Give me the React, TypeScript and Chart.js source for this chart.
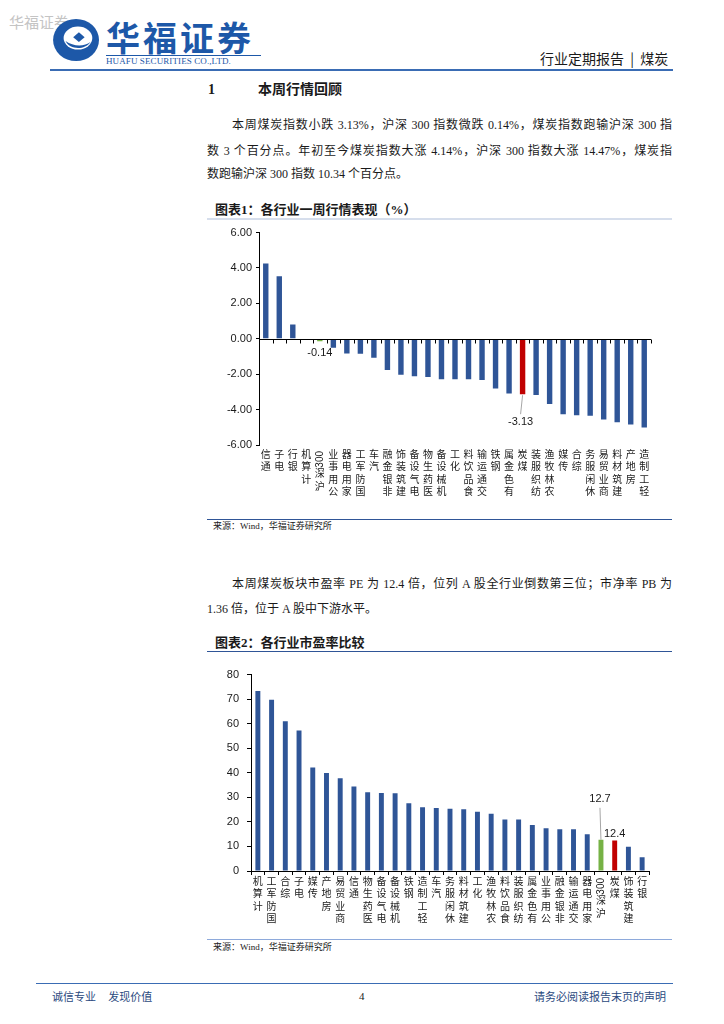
import React, { useEffect, useRef } from 'react';
import { Chart, registerables } from 'chart.js';

Chart.register(...registerables);

// ---------- Data ----------
const weekCategories = ['通信', '电子', '银行', '计算机', '沪深300', '公用事业', '家用电器', '国防军工', '汽车', '非银金融', '建筑装饰', '电气设备', '医药生物', '机械设备', '化工', '食品饮料', '交通运输', '钢铁', '有色金属', '煤炭', '纺织服装', '农林牧渔', '传媒', '综合', '休闲服务', '商业贸易', '建筑材料', '房地产', '轻工制造'];
const weekValues = [4.26, 3.53, 0.81, -0.05, -0.14, -0.51, -0.83, -0.84, -1.07, -1.76, -2.03, -2.12, -2.16, -2.29, -2.28, -2.29, -2.33, -2.81, -3.09, -3.13, -3.17, -3.68, -4.26, -4.32, -4.35, -4.56, -4.71, -4.84, -5.01];
const weekTickMin = -6;
const weekTickMax = 6;
const weekTickStep = 2;

const peCategories = ['计算机', '国防军工', '综合', '电子', '传媒', '房地产', '商业贸易', '通信', '医药生物', '电气设备', '机械设备', '钢铁', '轻工制造', '汽车', '休闲服务', '建筑材料', '化工', '农林牧渔', '食品饮料', '纺织服装', '有色金属', '公用事业', '非银金融', '交通运输', '家用电器', '沪深300', '煤炭', '建筑装饰', '银行'];
const peValues = [73.3, 69.8, 61.0, 57.2, 42.2, 39.9, 37.8, 34.4, 32.1, 31.8, 31.7, 27.6, 26.0, 25.7, 25.4, 25.2, 24.1, 23.3, 21.0, 21.0, 18.7, 17.4, 17.0, 17.0, 15.0, 12.7, 12.4, 9.9, 5.6];
const peTickMin = 0;
const peTickMax = 80;
const peTickStep = 10;

const highlightRed = '煤炭';
const highlightGreen = '沪深300';

// ---------- Styles ----------
const BLUE = '#2f5597';
const RED = '#c00000';
const GREEN = '#76b245';
const TICK_FONT = '"Liberation Sans", Arial, sans-serif';
const CJK = '"Noto Sans CJK SC", sans-serif';
const BODY_FONT = '"Liberation Serif", "Noto Sans CJK SC", serif';

const barColors = (cats: string[]) =>
  cats.map((c) => (c === highlightRed ? RED : c === highlightGreen ? GREEN : BLUE));

// vertical stacked category labels (characters upright, reading bottom-to-top, digits rotated)
const verticalLabels = (offset: number) => ({
  id: 'verticalLabels',
  afterDraw(chart: any) {
    const ctx = chart.ctx as CanvasRenderingContext2D;
    const xs = chart.scales.x;
    const labels = chart.data.labels as string[];
    ctx.save();
    ctx.fillStyle = '#1a1a1a';
    labels.forEach((lab, i) => {
      const x = xs.getPixelForValue(i);
      const tokens = (lab.match(/[0-9A-Za-z]+|./g) || []).reverse();
      let y = chart.chartArea.bottom + offset;
      for (const t of tokens) {
        if (/^[0-9A-Za-z]+$/.test(t)) {
          ctx.font = `10px ${TICK_FONT}`;
          const w = ctx.measureText(t).width;
          ctx.save();
          ctx.translate(x, y + w / 2 + 1);
          ctx.rotate(-Math.PI / 2);
          ctx.textAlign = 'center';
          ctx.textBaseline = 'middle';
          ctx.fillText(t, 0, 0);
          ctx.restore();
          y += w + 3;
        } else {
          ctx.font = `10px ${CJK}`;
          ctx.textAlign = 'center';
          ctx.textBaseline = 'top';
          ctx.fillText(t, x, y - 1);
          y += 12.5;
        }
      }
    });
    ctx.restore();
  },
});

// zero line with boundary ticks for chart 1
const zeroAxis = {
  id: 'zeroAxis',
  afterDatasetsDraw(chart: any) {
    const ctx = chart.ctx as CanvasRenderingContext2D;
    const { left, right } = chart.chartArea;
    const y0 = Math.round(chart.scales.y.getPixelForValue(0)) + 0.5;
    const n = (chart.data.labels as string[]).length;
    const step = (right - left) / n;
    ctx.save();
    ctx.strokeStyle = '#000';
    ctx.lineWidth = 1;
    ctx.beginPath();
    ctx.moveTo(left, y0);
    ctx.lineTo(right, y0);
    for (let i = 1; i <= n; i++) {
      const x = Math.round(left + i * step) + 0.5;
      ctx.moveTo(x, y0);
      ctx.lineTo(x, y0 + 4);
    }
    ctx.stroke();
    ctx.restore();
  },
};

type Callout = { cat: string; text: string; dx: number; textDy: number; lineFrom: number; lineTo: number };

const callouts = (items: Callout[]) => ({
  id: 'callouts',
  afterDraw(chart: any) {
    const ctx = chart.ctx as CanvasRenderingContext2D;
    const meta = chart.getDatasetMeta(0);
    const labels = chart.data.labels as string[];
    ctx.save();
    ctx.font = `11px ${TICK_FONT}`;
    ctx.textAlign = 'center';
    ctx.textBaseline = 'middle';
    for (const it of items) {
      const idx = labels.indexOf(it.cat);
      const bar = meta.data[idx];
      if (!bar) continue;
      const bx = bar.x;
      const by = bar.y;
      if (it.lineFrom !== it.lineTo) {
        ctx.strokeStyle = '#a6a6a6';
        ctx.lineWidth = 1;
        ctx.beginPath();
        ctx.moveTo(bx, by + it.lineFrom);
        ctx.lineTo(bx + it.dx, by + it.lineTo);
        ctx.stroke();
      }
      ctx.fillStyle = '#1a1a1a';
      ctx.fillText(it.text, bx + it.dx, by + it.textDy);
    }
    ctx.restore();
  },
});

function BarChart(props: {
  cats: string[];
  vals: number[];
  min: number;
  max: number;
  step: number;
  digits: number;
  w: number;
  h: number;
  yWidth: number;
  xHeight: number;
  padRight: number;
  padTop: number;
  barPct: number;
  tickLen: number;
  tickPad: number;
  labelOffset: number;
  zero: boolean;
  notes: Callout[];
}) {
  const ref = useRef<HTMLCanvasElement>(null);
  useEffect(() => {
    if (!ref.current) return;
    const plugins: any[] = [verticalLabels(props.labelOffset), callouts(props.notes)];
    if (props.zero) plugins.push(zeroAxis);
    const chart = new Chart(ref.current, {
      type: 'bar',
      data: {
        labels: props.cats,
        datasets: [
          {
            data: props.vals,
            backgroundColor: barColors(props.cats),
            borderWidth: 0,
            barPercentage: props.barPct,
            categoryPercentage: 1,
          },
        ],
      },
      options: {
        animation: false,
        responsive: false,
        devicePixelRatio: 1,
        layout: { padding: { left: 0, right: props.padRight, top: props.padTop, bottom: 0 } },
        plugins: { legend: { display: false }, tooltip: { enabled: false } },
        scales: {
          x: {
            offset: true,
            ticks: { display: false },
            grid: {
              display: !props.zero,
              drawOnChartArea: false,
              drawTicks: true,
              tickLength: 4,
              color: '#000',
              offset: true,
            },
            border: { display: !props.zero, color: '#000' },
            afterFit: (s: any) => {
              s.height = props.xHeight;
            },
          },
          y: {
            min: props.min,
            max: props.max,
            ticks: {
              stepSize: props.step,
              padding: props.tickPad,
              color: '#1a1a1a',
              font: { family: TICK_FONT, size: 11 },
              callback: (v: any) => Number(v).toFixed(props.digits),
            },
            grid: { drawOnChartArea: false, drawTicks: true, tickLength: props.tickLen, color: '#000' },
            border: { display: true, color: '#000' },
            afterFit: (s: any) => {
              s.width = props.yWidth;
            },
          },
        },
      },
      plugins,
    });
    return () => chart.destroy();
  }, []);
  return <canvas ref={ref} width={props.w} height={props.h} style={{ width: props.w, height: props.h, display: 'block' }} />;
}

function Abs(props: { x: number; y: number; w?: number; h?: number; style?: React.CSSProperties; children?: React.ReactNode }) {
  return (
    <div
      style={{
        position: 'absolute',
        left: props.x,
        top: props.y,
        width: props.w,
        height: props.h,
        whiteSpace: 'nowrap',
        ...props.style,
      }}
    >
      {props.children}
    </div>
  );
}

const lineStyle = (size: number, lh: number): React.CSSProperties => ({
  fontFamily: BODY_FONT,
  fontSize: size,
  lineHeight: `${lh}px`,
  color: '#1a1a1a',
});

const justified: React.CSSProperties = { textAlign: 'justify', textAlignLast: 'justify', whiteSpace: 'normal' };

export default function App() {
  useEffect(() => {
    document.body.style.margin = '0';
  }, []);
  return (
    <div style={{ position: 'absolute', left: 0, top: 0, width: 724, height: 1024, background: '#fff', overflow: 'hidden' }}>
      {/* watermark */}
      <Abs x={9} y={13} style={{ fontFamily: CJK, fontSize: 15, color: '#c4c4c4', lineHeight: '18px' }}>华福证券</Abs>
      {/* logo */}
      <svg style={{ position: 'absolute', left: 52, top: 18 }} width={50} height={44} viewBox="0 0 52 46">
        <ellipse cx="25" cy="23" rx="24" ry="22" fill="#1d58a8" />
        <ellipse cx="27" cy="21" rx="15" ry="12" fill="#fff" />
        <path d="M14 24 C18 33, 34 34, 40 25 C34 30, 22 30, 14 24 Z" fill="#1d58a8" />
        <path d="M22 20 L28 15 L34 20 L28 25 Z" fill="#1d58a8" />
      </svg>
      <Abs x={106} y={19} style={{ fontFamily: CJK, fontWeight: 700, fontSize: 34, color: '#1d58a8', lineHeight: '36px', letterSpacing: 3 }}>
        华福证券
      </Abs>
      <div style={{ position: 'absolute', left: 106, top: 55, width: 155, height: 1, background: '#1d58a8' }} />
      <Abs x={106} y={56} style={{ fontFamily: '"Liberation Serif", serif', fontSize: 9, color: '#1d58a8', lineHeight: '11px', letterSpacing: 0.1 }}>
        HUAFU SECURITIES CO.,LTD.
      </Abs>
      <Abs x={540} y={49} style={{ fontFamily: CJK, fontSize: 14, color: '#1a1a1a', lineHeight: '18px' }}>
        行业定期报告&nbsp;&nbsp;|&nbsp;&nbsp;煤炭
      </Abs>
      <div style={{ position: 'absolute', left: 50, top: 69, width: 623, height: 2, background: '#3a6cb4' }} />

      {/* section heading */}
      <Abs x={208} y={81} style={{ ...lineStyle(14, 18), fontWeight: 700 }}>1</Abs>
      <Abs x={258} y={81} style={{ ...lineStyle(14, 18), fontWeight: 700 }}>本周行情回顾</Abs>

      {/* paragraph 1 */}
      <Abs x={232} y={116} w={440} style={{ ...lineStyle(12, 18), ...justified }}>
        本周煤炭指数小跌 3.13%，沪深 300 指数微跌 0.14%，煤炭指数跑输沪深 300 指
      </Abs>
      <Abs x={207} y={142} w={465} style={{ ...lineStyle(12, 18), ...justified }}>
        数 3 个百分点。年初至今煤炭指数大涨 4.14%，沪深 300 指数大涨 14.47%，煤炭指
      </Abs>
      <Abs x={207} y={165} style={lineStyle(12, 18)}>数跑输沪深 300 指数 10.34 个百分点。</Abs>

      {/* caption 1 */}
      <Abs x={215} y={201} style={{ ...lineStyle(13, 18), fontWeight: 700 }}>图表1：各行业一周行情表现（%）</Abs>
      <div style={{ position: 'absolute', left: 207, top: 218, width: 465, height: 2, background: '#d6deec' }} />

      <div style={{ position: 'absolute', left: 200, top: 222 }}>
        <BarChart
          cats={weekCategories}
          vals={weekValues}
          min={weekTickMin}
          max={weekTickMax}
          step={weekTickStep}
          digits={2}
          w={470}
          h={296}
          yWidth={59}
          xHeight={73}
          padRight={19}
          padTop={10}
          barPct={0.4}
          tickLen={3}
          tickPad={4}
          labelOffset={5}
          zero={true}
          notes={[
            { cat: '沪深300', text: '-0.14', dx: 0, textDy: 12, lineFrom: 0, lineTo: 0 },
            { cat: '煤炭', text: '-3.13', dx: -2, textDy: 28, lineFrom: 1, lineTo: 20 },
          ]}
        />
      </div>

      {/* source 1 */}
      <div style={{ position: 'absolute', left: 207, top: 519, width: 465, height: 1, background: '#2f5597' }} />
      <Abs x={213} y={520} style={{ ...lineStyle(9, 12) }}>来源：Wind，华福证券研究所</Abs>

      {/* paragraph 2 */}
      <Abs x={232} y={575} w={440} style={{ ...lineStyle(12, 18), ...justified }}>
        本周煤炭板块市盈率 PE 为 12.4 倍，位列 A 股全行业倒数第三位；市净率 PB 为
      </Abs>
      <Abs x={207} y={600} style={lineStyle(12, 18)}>1.36 倍，位于 A 股中下游水平。</Abs>

      {/* caption 2 */}
      <Abs x={215} y={634} style={{ ...lineStyle(13, 18), fontWeight: 700 }}>图表2：各行业市盈率比较</Abs>
      <div style={{ position: 'absolute', left: 207, top: 651, width: 465, height: 1, background: '#2f5597' }} />

      <div style={{ position: 'absolute', left: 195, top: 660 }}>
        <BarChart
          cats={peCategories}
          vals={peValues}
          min={peTickMin}
          max={peTickMax}
          step={peTickStep}
          digits={0}
          w={475}
          h={276}
          yWidth={56}
          xHeight={65}
          padRight={21}
          padTop={10}
          barPct={0.36}
          tickLen={4}
          tickPad={8}
          labelOffset={6}
          zero={false}
          notes={[
            { cat: '沪深300', text: '12.7', dx: -1, textDy: -41, lineFrom: 0, lineTo: -32 },
            { cat: '煤炭', text: '12.4', dx: 0, textDy: -7, lineFrom: 0, lineTo: 0 },
          ]}
        />
      </div>

      {/* source 2 */}
      <div style={{ position: 'absolute', left: 207, top: 939, width: 465, height: 1, background: '#8eaadb' }} />
      <Abs x={213} y={941} style={{ ...lineStyle(9, 12) }}>来源：Wind，华福证券研究所</Abs>

      {/* footer */}
      <div style={{ position: 'absolute', left: 36, top: 983, width: 637, height: 1, background: '#3a6cb4' }} />
      <Abs x={52} y={989} style={{ fontFamily: CJK, fontSize: 11, color: '#2b4a80', lineHeight: '14px' }}>诚信专业&nbsp;&nbsp;&nbsp;&nbsp;&nbsp;发现价值</Abs>
      <Abs x={359} y={989} style={{ fontFamily: '"Liberation Serif", serif', fontSize: 11, color: '#1a1a1a', lineHeight: '14px' }}>4</Abs>
      <Abs x={534} y={989} style={{ fontFamily: CJK, fontSize: 11, color: '#2b4a80', lineHeight: '14px' }}>请务必阅读报告末页的声明</Abs>
    </div>
  );
}
